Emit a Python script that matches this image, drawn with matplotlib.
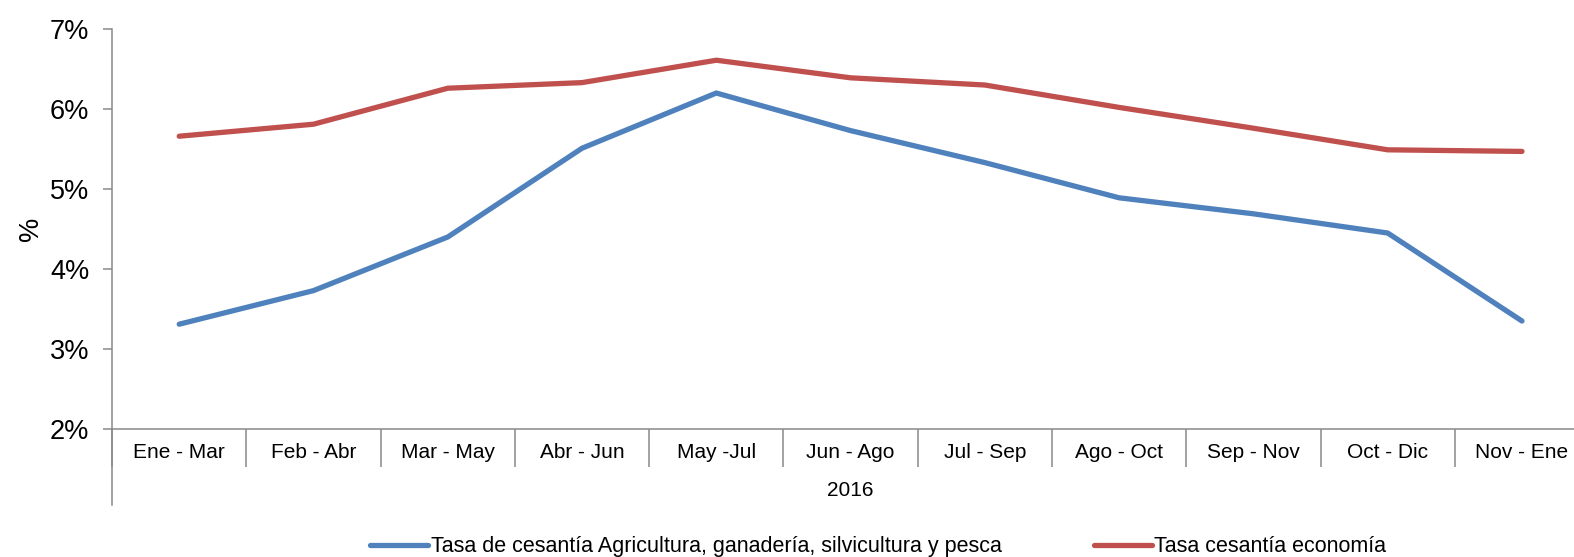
import matplotlib
matplotlib.use('Agg')
import matplotlib.pyplot as plt
from matplotlib.ticker import FuncFormatter, FixedLocator

plt.rcParams['font.family'] = ['Liberation Sans', 'DejaVu Sans']

# Trimestres móviles 2016
periodos = ["Ene - Mar", "Feb - Abr", "Mar - May", "Abr - Jun", "May -Jul", "Jun - Ago",
            "Jul - Sep", "Ago - Oct", "Sep - Nov", "Oct - Dic", "Nov - Ene"]
agricultura = [3.31, 3.73, 4.40, 5.51, 6.20, 5.73, 5.33, 4.89, 4.69, 4.45, 3.35]
economia = [5.66, 5.81, 6.26, 6.33, 6.61, 6.39, 6.30, 6.02, 5.76, 5.49, 5.47]
anio = "2016"

azul = '#4F81BD'
rojo = '#C0504D'
gris = '#898989'

fig = plt.figure(figsize=(15.74, 5.57), dpi=100)
ax = fig.add_axes([0.0712, 0.2298, 0.9384, 0.7181])

x = [i + 0.5 for i in range(len(periodos))]
ax.plot(x, agricultura, color=azul, lw=3.8, solid_capstyle='round',
        label="Tasa de cesantía Agricultura, ganadería, silvicultura y pesca")
ax.plot(x, economia, color=rojo, lw=3.8, solid_capstyle='round',
        label="Tasa cesantía economía")

ax.set_xlim(0, len(periodos))
ax.set_ylim(2, 7)
ax.set_yticks(range(2, 8))
ax.yaxis.set_major_formatter(FuncFormatter(lambda v, p: f"{v:.0f}%"))
ax.tick_params(axis='y', labelsize=19.5, length=6.5, width=1.1, color=gris, pad=10)
ax.set_ylabel("%", fontsize=19.5, labelpad=4)

# category labels centered, separators as minor ticks
ax.set_xticks(x)
ax.set_xticklabels(periodos, fontsize=15)
ax.xaxis.set_minor_locator(FixedLocator(range(len(periodos) + 1)))
ax.tick_params(axis='x', which='major', length=0, pad=10)
ax.tick_params(axis='x', which='minor', length=27, width=1.1, color=gris, direction='out')

for s in ['top', 'right']:
    ax.spines[s].set_visible(False)
for s in ['left', 'bottom']:
    ax.spines[s].set_color(gris)
    ax.spines[s].set_linewidth(1.1)

# group label bracket
ax.plot([0, 0], [0, -0.19], transform=ax.transAxes, color=gris, lw=1.1, clip_on=False)
ax.text(0.5, -0.155, anio, transform=ax.transAxes, ha='center', va='center', fontsize=15)

fig.legend(loc='lower center', bbox_to_anchor=(0.558, -0.035), ncol=2, frameon=False,
           fontsize=15.5, handlelength=2.7, handletextpad=0.1, columnspacing=4.3)

fig.savefig('out.png', dpi=100)
